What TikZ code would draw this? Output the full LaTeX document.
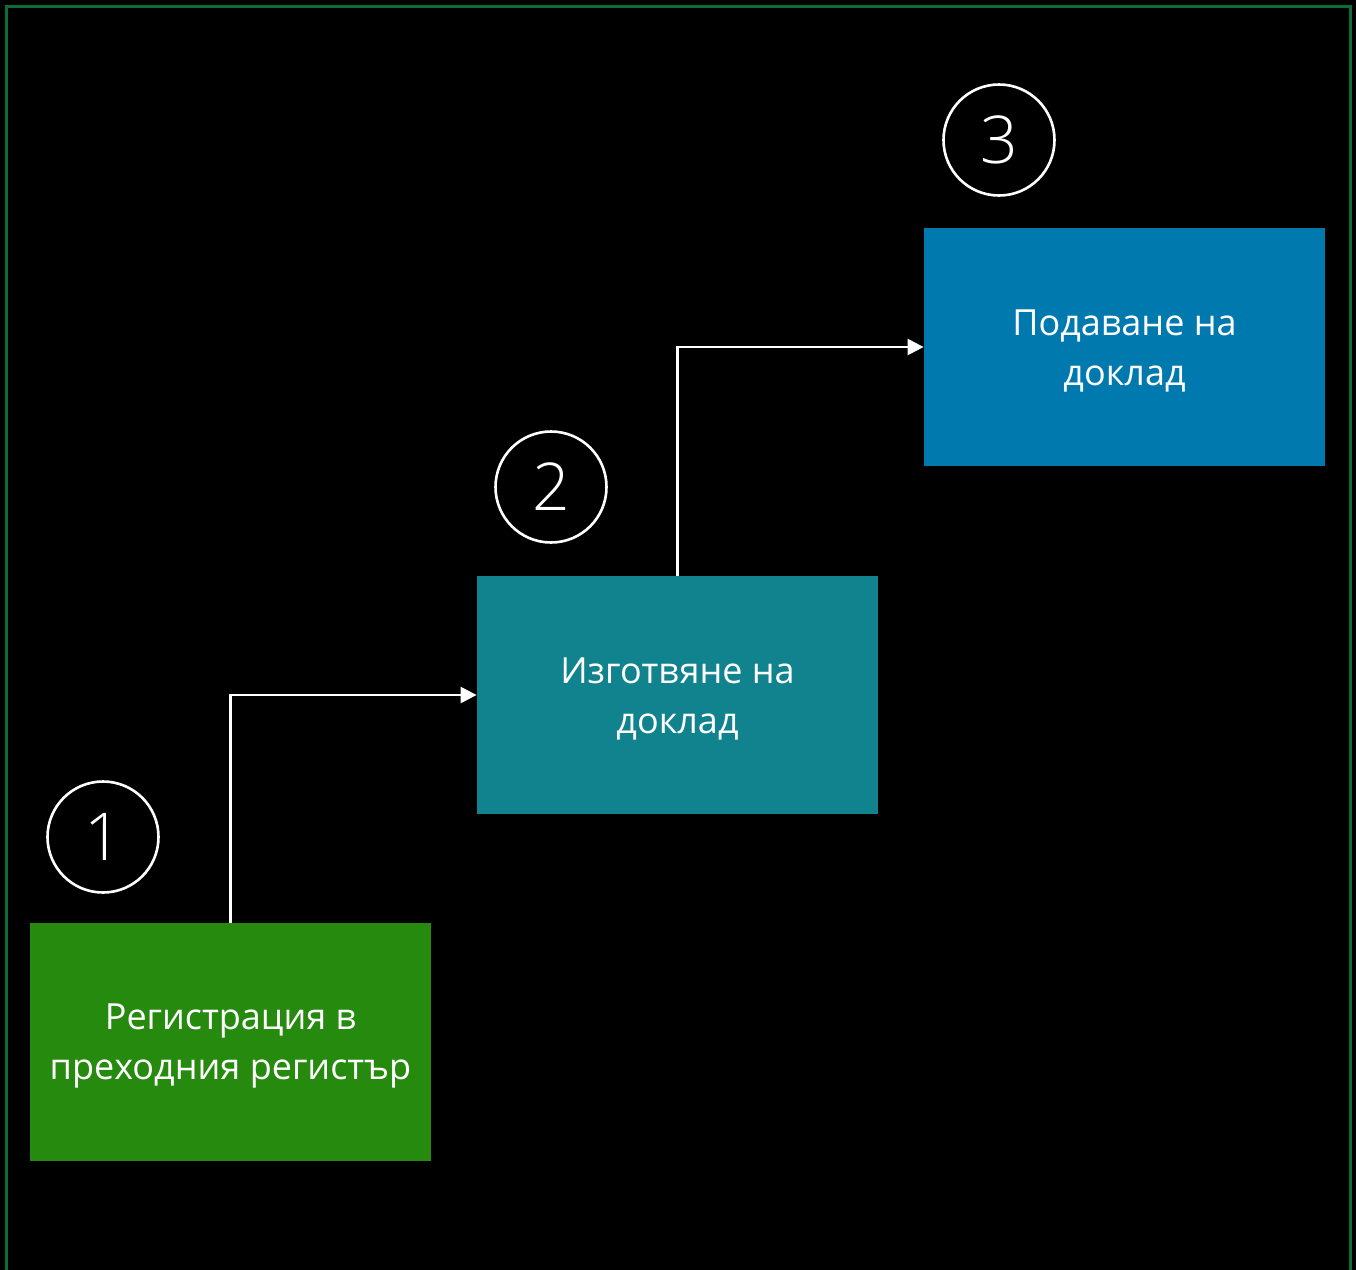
\documentclass[tikz,border=0pt]{standalone}
\usepackage{fontspec}
\setmainfont{Open Sans}
\newfontfamily\lightfont{Open Sans Light}
\usetikzlibrary{arrows.meta}
\definecolor{frame}{HTML}{0E6B3A}
\definecolor{cgreen}{HTML}{268A0F}
\definecolor{cteal}{HTML}{11838E}
\definecolor{cblue}{HTML}{0079AF}
\tikzset{
  stepbox/.style={draw=none, minimum width=200.5pt, minimum height=119pt, inner sep=0pt,
    text=white, align=center, font=\fontsize{18}{25}\selectfont},
  numcirc/.style={circle, draw=white, line width=1.3pt, minimum size=55.5pt, inner sep=0pt,
    text=white, font=\lightfont\fontsize{33}{36}\selectfont},
  conn/.style={draw=white, line width=1.2pt, -{Triangle[length=8pt,width=8pt]}}
}
\begin{document}
\begin{tikzpicture}[x=0.5pt,y=-0.5pt]
\fill[black] (0,0) rectangle (1356,1270);
\useasboundingbox (0,0) rectangle (1356,1270);
\draw[frame, line width=1.5pt] (6,1280) -- (6,6) -- (1350,6) -- (1350,1280);
\node[stepbox, fill=cgreen] (b1) at (230.5,1042) {};
\node[stepbox, fill=cteal] (b2) at (677.5,695) {};
\node[stepbox, fill=cblue] (b3) at (1124.5,347) {};
\node[text=white, align=center, font=\fontsize{18}{25}\selectfont] (t1) at ([yshift=-2pt]b1.center) {Регистрация в\\преходния регистър};
\node[text=white, align=center, font=\fontsize{18}{25}\selectfont] (t2) at ([yshift=-2pt]b2.center) {Изготвяне на\\доклад};
\node[text=white, align=center, font=\fontsize{18}{25}\selectfont] (t3) at ([yshift=-2pt]b3.center) {Подаване на\\доклад};
\node[numcirc] (c1) at (103,837) {1};
\node[numcirc] (c2) at (551,487) {2};
\node[numcirc] (c3) at (999,140) {3};
\draw[conn] (b1.north) |- (b2.west);
\draw[conn] (b2.north) |- (b3.west);
\end{tikzpicture}
\end{document}
